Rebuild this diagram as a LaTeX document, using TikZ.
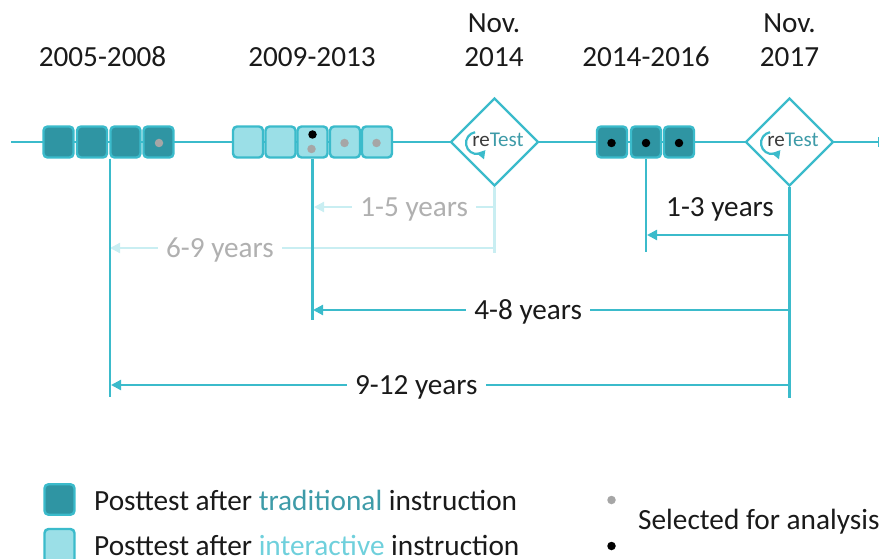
\documentclass[tikz,border=0pt]{standalone}
\usepackage{fontspec}
\setmainfont{Carlito}
\usetikzlibrary{arrows.meta,shapes.geometric}
\definecolor{teal1}{HTML}{3BBBCB}
\definecolor{darkfill}{HTML}{2F95A3}
\definecolor{lightfill}{HTML}{9BDFE7}
\definecolor{faint}{HTML}{C9EEF2}
\definecolor{tradtext}{HTML}{3E9BA8}
\definecolor{intertext}{HTML}{6FD0DC}
\definecolor{greydot}{HTML}{A6A6A6}
\definecolor{greytext}{HTML}{B0B0B0}
\definecolor{txt}{HTML}{1A1A1A}
\tikzset{
  x=1pt,y=-1pt,
  every node/.style={font=\fontsize{29.2pt}{32pt}\selectfont,text=txt},
  tbox/.style={draw=teal1,line width=2.4pt,rounded corners=4pt,minimum width=30pt,minimum height=31pt,inner sep=0pt},
  trad/.style={tbox,fill=darkfill},
  inter/.style={tbox,fill=lightfill},
  retest/.style={diamond,draw=teal1,line width=2.2pt,fill=white,minimum width=88pt,minimum height=88pt,inner sep=0pt},
  link/.style={draw=teal1,line width=2.2pt},
  flink/.style={draw=faint,line width=2.2pt},
  arr/.style={link,-{Triangle[length=10pt,width=10pt]}},
  farr/.style={flink,-{Triangle[length=10pt,width=10pt]}},
  gap/.style={fill=white,inner xsep=8pt,inner ysep=0pt,yshift=-2pt},
  gdot/.style={circle,fill=greydot,minimum size=8.5pt,inner sep=0pt},
  bdot/.style={circle,fill=black,minimum size=8.5pt,inner sep=0pt},
  lbl/.style={anchor=base},
  leg/.style={anchor=base west,inner sep=0pt,font=\fontsize{29.3pt}{32pt}\selectfont},
}
\newcommand{\retestlogo}[2]{%
  \draw[teal1,line width=2.2pt,-{Triangle[length=8pt,width=9pt]}] (#1-19.4,#2-9.8) arc[start angle=100,end angle=320,radius=11pt];
  \node[anchor=base,inner sep=0pt,font=\fontsize{21pt}{24pt}\selectfont] at (#1+3.5,#2+5) {\textcolor{txt!85}{re}\textcolor{tradtext}{Test}};
}
\begin{document}
\begin{tikzpicture}
\useasboundingbox (0,0) rectangle (879,559);
\clip (0,0) rectangle (879,559);
% named free ends
\coordinate (start) at (11,142);
\coordinate (end) at (879,142);
% timeline
\draw[link] (start) -- (end);
\draw[teal1,line width=2pt] (878.5,137) -- (878.5,147);
% boxes
\node[trad] (a1) at (58.5,142) {};
\node[trad] (a2) at (92,142) {};
\node[trad] (a3) at (125.5,142) {};
\node[trad] (a4) at (158.5,142) {};
\node[inter] (b1) at (248,142) {};
\node[inter] (b2) at (280.5,142) {};
\node[inter] (b3) at (312.5,142) {};
\node[inter] (b4) at (345,142) {};
\node[inter] (b5) at (377,142) {};
\node[trad] (c1) at (612,142) {};
\node[trad] (c2) at (646,142) {};
\node[trad] (c3) at (679,142) {};
\node[retest] (r1) at (494.5,142) {};
\node[retest] (r2) at (789.5,142) {};
\retestlogo{494.5}{142}
\retestlogo{789.5}{142}
% dots
\node[gdot] at (159,143) {};
\node[bdot] at (312.5,134.5) {};
\node[gdot] at (311.5,149) {};
\node[gdot] at (344.5,143) {};
\node[gdot] at (376.5,143) {};
\node[bdot] at (611.5,143) {};
\node[bdot] at (646,143) {};
\node[bdot] at (679,143) {};
% end coordinates
\coordinate (fr1) at (494.5,253);
\coordinate (fa) at (110,248);
\coordinate (fb) at (314,207);
\coordinate (fs1) at (494.5,207);
\coordinate (fs2) at (494.5,248);
\coordinate (va) at (110,397);
\coordinate (vb) at (312.5,320);
\coordinate (vc) at (646,252);
\coordinate (vr) at (789.5,398);
\coordinate (s3) at (788,235);
\coordinate (e3) at (647,235);
\coordinate (s4) at (788,310);
\coordinate (e4) at (313,310);
\coordinate (s5) at (789.5,385);
\coordinate (e5) at (111,385);
% faint connectors
\draw[flink] (r1.south) -- (fr1);
\draw[farr] (fs2) -- node[gap,text=greytext,pos=0.714] (t2) {6-9 years} (fa);
\draw[farr] (fs1) -- node[gap,text=greytext,pos=0.445] (t1) {1-5 years} (fb);
% solid connectors
\draw[link] (a3.south west -| va) -- (va);
\draw[link] (b3.south) -- (vb);
\draw[link] (c2.south) -- (vc);
\draw[link] (r2.south) -- (vr);
\draw[arr] (s3) -- (e3);
\node (t3) at (720,209) {1-3 years};
\draw[arr] (s4) -- node[gap,pos=0.547] (t4) {4-8 years} (e4);
\draw[arr] (s5) -- node[gap,pos=0.55] (t5) {9-12 years} (e5);
% headers
\node[lbl] (h1) at (102.5,67) {2005-2008};
\node[lbl] (h2) at (312,67) {2009-2013};
\node[lbl] (h3) at (494,33) {Nov.};
\node[lbl] (h3b) at (494,67) {2014};
\node[lbl] (h4) at (646,67) {2014-2016};
\node[lbl] (h5) at (789.5,33) {Nov.};
\node[lbl] (h5b) at (789.5,67) {2017};
% legend
\node[trad,minimum width=30pt,minimum height=30.5pt] (l1) at (59.5,499.5) {};
\node[inter,minimum width=30pt,minimum height=34pt] (l2) at (59.5,546) {};
\node[leg] (lt1) at (94,510) {Posttest after \textcolor{tradtext}{traditional} instruction};
\node[leg] (lt2) at (94,555) {Posttest after \textcolor{intertext}{interactive} instruction};
\node[circle,fill=greydot,minimum size=8.5pt,inner sep=0pt] (l3) at (611.5,500) {};
\node[bdot] (l4) at (611.5,546) {};
\node[leg] (lt3) at (638,529) {Selected for analysis};
\end{tikzpicture}
\end{document}
